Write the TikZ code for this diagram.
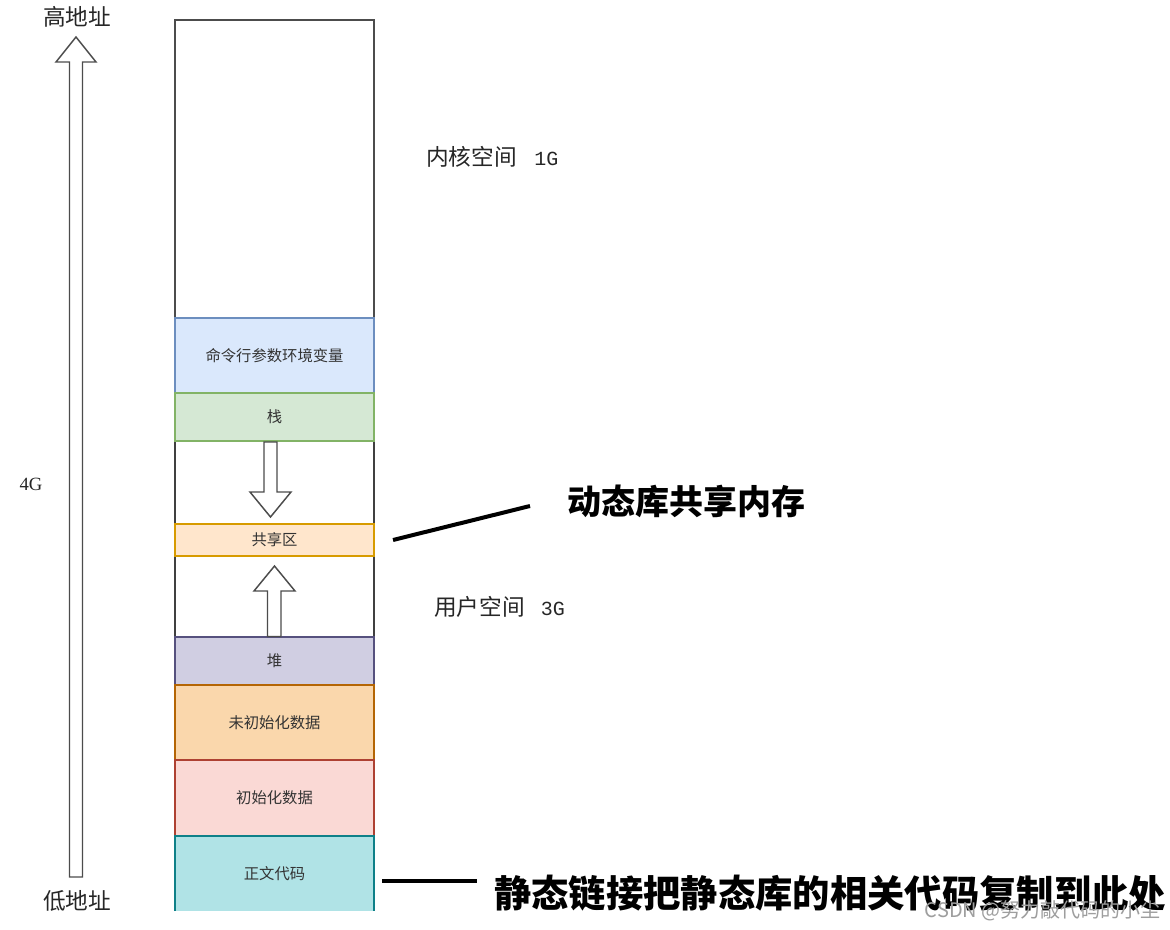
\documentclass[tikz,border=0pt]{standalone}
\usepackage{fontspec}
\newfontfamily\cjk{Noto Sans CJK SC}
\newfontfamily\serifdig{Liberation Serif}
\newfontfamily\monodig{Liberation Mono}
\begin{document}
\begin{tikzpicture}[x=0.75pt,y=-0.75pt,
  blk/.style={draw, line width=1.1pt, inner sep=0pt, outer sep=0pt, minimum width=149.25pt,
    font=\cjk\fontsize{11.5}{13}\selectfont, text=black!80},
  lbl/.style={font=\cjk\fontsize{17}{20}\selectfont, text=black!85, inner sep=0pt},
  big/.style={font=\cjk\bfseries\fontsize{25.5}{30}\selectfont, text=black, inner sep=0pt},
  hollow/.style={draw=black!70, line width=1.1pt, fill=white, line join=miter},
  leader/.style={line width=3pt, black}]
\definecolor{bluef}{HTML}{DAE8FC}\definecolor{blued}{HTML}{6C8EBF}
\definecolor{greenf}{HTML}{D5E8D4}\definecolor{greend}{HTML}{82B366}
\definecolor{orangef}{HTML}{FFE6CC}\definecolor{oranged}{HTML}{D79B00}
\definecolor{purplef}{HTML}{D0CEE2}\definecolor{purpled}{HTML}{56517E}
\definecolor{bssf}{HTML}{FAD7AC}\definecolor{bssd}{HTML}{B46504}
\definecolor{dataf}{HTML}{FAD9D5}\definecolor{datad}{HTML}{AE4132}
\definecolor{textf}{HTML}{B0E3E6}\definecolor{textd}{HTML}{0E8088}
\path[fill=white] (0,0) rectangle (1170,930);
\useasboundingbox (0,0) rectangle (1170,930);
\begin{scope}
\clip (0,0) rectangle (1170,911);
% white blocks
\node[blk, draw=black!70, fill=white, minimum height=223.5pt] (kernel) at (274.5,169) {};
\node[blk, draw=black!75, fill=white, minimum height=62.25pt] (gap1) at (274.5,482.5) {};
\node[blk, draw=black!75, fill=white, minimum height=60.75pt] (gap2) at (274.5,596.5) {};
% coloured blocks
\node[blk, draw=blued, fill=bluef, minimum height=56.25pt] (cmd) at (274.5,355.5) {命令行参数环境变量};
\node[blk, draw=greend, fill=greenf, minimum height=36pt] (stack) at (274.5,417) {栈};
\node[blk, draw=oranged, fill=orangef, minimum height=24pt] (share) at (274.5,540) {共享区};
\node[blk, draw=purpled, fill=purplef, minimum height=36pt] (heap) at (274.5,661) {堆};
\node[blk, draw=bssd, fill=bssf, minimum height=56.25pt] (bss) at (274.5,722.5) {未初始化数据};
\node[blk, draw=datad, fill=dataf, minimum height=57pt] (data) at (274.5,798) {初始化数据};
\node[blk, draw=none, fill=textf, minimum height=56.25pt] (code) at (274.5,873.5) {正文代码};
\draw[line width=1.1pt, textd] (code.south west) -- (code.north west) -- (code.north east) -- (code.south east);
% hollow arrows
\draw[hollow] (69.5,877) -- (69.5,62) -- (56,62) -- (76,37) -- (96,62) -- (82.5,62) -- (82.5,877) -- cycle;
\draw[hollow] (264,442) -- (264,492) -- (250,492) -- (270.5,517) -- (291,492) -- (277,492) -- (277,442) -- cycle;
\draw[hollow] (267.5,636.5) -- (267.5,591) -- (254,591) -- (274.5,566) -- (295,591) -- (281,591) -- (281,636.5) -- cycle;
% labels
\node[lbl] (high) at (77,17) {高地址};
\node[lbl] (low) at (77,901) {低地址};
\node[font=\serifdig\fontsize{14}{16}\selectfont, text=black!85] (fourg) at (31,484) {4G};
\node[lbl, anchor=west] (kspace) at (426,157) {内核空间\hspace{13pt}{\monodig\fontsize{15}{18}\selectfont 1G}};
\node[lbl, anchor=west] (uspace) at (434,607) {用户空间\hspace{12pt}{\monodig\fontsize{15}{18}\selectfont 3G}};
\node[big, anchor=west] (dyn) at (567,501) {动态库共享内存};
\node[big, anchor=west, font=\cjk\bfseries\fontsize{28}{32}\selectfont] (stat) at (494,893) {静态链接把静态库的相关代码复制到此处};
% leader lines
\coordinate (dynA) at (393,540);
\coordinate (dynB) at (530,506);
\draw[leader] (dynA) -- (dynB);
\coordinate (statA) at (382,881);
\coordinate (statB) at (477,881);
\draw[leader, line width=3.6pt] (statA) -- (statB);
\end{scope}
\node[font=\cjk\fontsize{15}{17}\selectfont, text=black!38, anchor=east, inner sep=0pt] (wm) at (1161,911) {CSDN @努力敲代码的小尘};
\end{tikzpicture}
\end{document}
